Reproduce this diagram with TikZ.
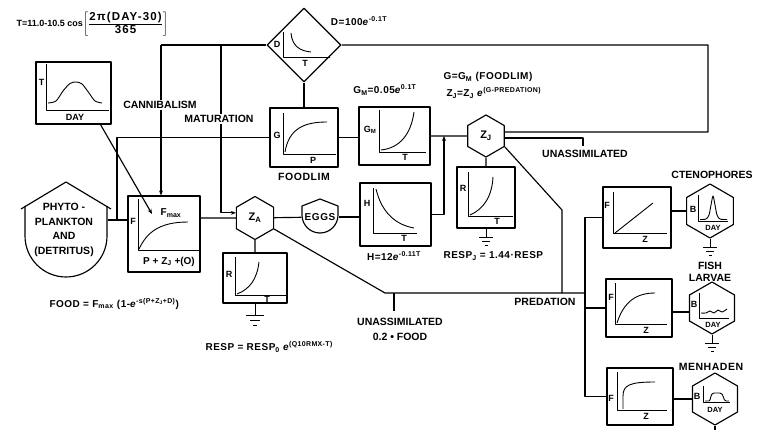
\documentclass[tikz,border=0pt]{standalone}
\usepackage{fontspec}
\setmainfont{Liberation Sans}
\usetikzlibrary{shapes.geometric,arrows.meta,calc}
\begin{document}
\begin{tikzpicture}[x=1pt,y=-1pt,line width=1.15pt,line join=round,
  bx/.style={draw,inner sep=0pt},
  gl/.style={line width=0.9pt},
  hexa/.style={draw,regular polygon,regular polygon sides=6,shape border rotate=30,inner sep=0pt,minimum size=#1,font=\fontsize{11}{12}\selectfont\bfseries},
  arr/.style={-{Stealth[length=5pt,width=4pt]}},
  lbl/.style={font=\fontsize{10.5}{12}\selectfont\bfseries,inner sep=1pt},
  axl/.style={font=\fontsize{9}{10}\selectfont\bfseries,inner sep=0pt},
  dayl/.style={font=\fontsize{7.5}{8}\selectfont\bfseries,inner sep=0pt},
  fml/.style={font=\fontsize{10}{12}\selectfont\bfseries\addfontfeature{LetterSpace=5},inner sep=0pt},
  gndL/.pic={\draw[line width=0.9pt] (0,0)--(0,12) (-9,12)--(9,12) (-5,17)--(5,17) (-2,22)--(2,22);},
  gndS/.pic={\draw[line width=0.9pt] (0,0)--(0,9) (-7,9)--(7,9) (-4,13)--(4,13) (-1.5,17)--(1.5,17);}
]
\useasboundingbox[fill=white] (0,0) rectangle (760,430);

% ---------- title formula
\node[font=\fontsize{9}{10}\selectfont\bfseries,inner sep=0pt,anchor=west] (ttl) at (16,24) {T=11.0-10.5 cos$\displaystyle\left[\frac{\mbox{\fontsize{11.5}{12}\selectfont\bfseries\addfontfeature{LetterSpace=10}2π(DAY-30)}}{\mbox{\fontsize{11.5}{12}\selectfont\bfseries\addfontfeature{LetterSpace=10}365}}\right]$};

% ---------- temperature box
\node[bx,minimum width=75,minimum height=62] (temp) at (73.5,93) {};
\draw[gl] (46,64) -- (46,110) -- (109,110);
\draw[gl] plot[smooth] coordinates {(48,103) (56,101) (63,91) (70,83.5) (76,82) (82,84) (89,93) (95,101) (102,103)};
\node[axl] (tT) at (41.5,82) {T};
\node[axl] (tDAY) at (75,117.5) {DAY};

% ---------- mortality diamond
\node[draw,diamond,minimum width=74,minimum height=74,inner sep=0pt] (D) at (304,45) {};
\draw[gl] (283,32) -- (283,57) -- (330,57);
\draw[gl] (291,33) .. controls (292,46) and (300,51) .. (311,52);
\node[axl] (dD) at (277,44) {D};
\node[axl] (dT) at (305,63.5) {T};
\node[fml] (dform) at (359,21) {D=100\textit{e}\textsuperscript{-0.1T}};

% ---------- phytoplankton
\node[minimum width=83,minimum height=95,inner sep=0pt] (phyto) at (66,230) {};
\draw (21,209) -- (66,182) -- (111,209);
\draw (25,206) -- (25,236) arc[start angle=180,end angle=0,radius=41] -- (107,206);
\node[font=\fontsize{10.5}{14.5}\selectfont\bfseries,align=center] (ptxt) at (64,230) {PHYTO -\\PLANKTON\\AND\\(DETRITUS)};

% ---------- feeding box
\node[bx,minimum width=72,minimum height=76] (food) at (164,234) {};
\draw[gl] (138,199) -- (138,250) -- (200,250);
\draw[gl] (139,249) .. controls (147,232) and (160,222) .. (188,222);
\node[axl] (fF) at (133,221) {F};
\node[font=\fontsize{10}{11}\selectfont\bfseries,inner sep=0pt] (fmaxl) at (171,213) {F\textsubscript{max}};
\node[font=\fontsize{10}{11}\selectfont\bfseries,inner sep=0pt] (fP) at (169,261.5) {P + Z\textsubscript{J} +(O)};
\node[fml,anchor=west] (fform) at (49,304) {FOOD = F\textsubscript{max} (1-\textit{e}\textsuperscript{-s(P+Z\textsubscript{J}+D)})};

% ---------- Z_A and respiration
\node[hexa=43] (ZA) at (255,218) {Z\textsubscript{A}};
\node[bx,minimum width=64,minimum height=50] (respA) at (255,278) {};
\draw[gl] (235,257) -- (235,295) -- (286,295);
\draw[gl] (237,294) .. controls (250,289) and (257,279) .. (259,262);
\node[axl] (rR) at (229,274) {R};
\node[axl] (rT) at (267,299) {T};
\pic at (respA.south) {gndL};
\node[fml,anchor=west] (rform) at (205,347) {RESP = RESP\textsubscript{0} \textit{e}\textsuperscript{(Q10RMX-T)}};

% ---------- eggs
\node[circle,minimum size=36,inner sep=0pt,font=\fontsize{10}{11}\selectfont\bfseries] (eggs) at (320,217) {\addfontfeature{LetterSpace=6}EGGS};
\draw (302,206) -- (320,199) -- (338,206) -- (338,215) arc[start angle=0,end angle=180,radius=18] -- cycle;

% ---------- hatching
\node[bx,minimum width=71,minimum height=63] (H) at (395.5,214.5) {};
\draw[gl] (373,188) -- (373,233) -- (417,233);
\draw[gl] (376,189) .. controls (382,214) and (397,225) .. (414,228);
\node[axl] (hH) at (367,203) {H};
\node[axl] (hT) at (404,238.5) {T};
\node[fml] (hform) at (394,256) {H=12\textit{e}\textsuperscript{-0.11T}};

% ---------- foodlim
\node[bx,minimum width=68,minimum height=59] (flim) at (304,137.5) {};
\draw[gl] (283,113) -- (283,154) -- (336,154);
\draw[gl] (285,152) .. controls (289,128) and (305,122) .. (327,122);
\node[axl] (gG) at (277,135) {G};
\node[axl] (gP) at (313,160) {P};
\node[lbl] (flimtxt) at (304,177) {\addfontfeature{LetterSpace=5}FOODLIM};

% ---------- G_M
\node[bx,minimum width=71,minimum height=58] (GM) at (394.5,136) {};
\draw[gl] (379,110) -- (379,152) -- (426,152);
\draw[gl] (381,150) .. controls (400,148) and (411,134) .. (414,112);
\node[axl] (gmG) at (370,130) {G\textsubscript{M}};
\node[axl] (gmT) at (405,157.5) {T};
\node[fml] (gmform) at (385,90) {G\textsubscript{M}=0.05\textit{e}\textsuperscript{0.1T}};
\node[fml,anchor=west] (gform) at (443,77) {G=G\textsubscript{M} (FOODLIM)};
\node[fml,anchor=west] (zform) at (446,93) {Z\textsubscript{J}=Z\textsubscript{J} \textit{e}\textsuperscript{(G-PREDATION)}};

% ---------- Z_J and respiration
\node[hexa=42] (ZJ) at (486,136) {Z\textsubscript{J}};
\node[bx,minimum width=58,minimum height=61] (respJ) at (486,197.5) {};
\draw[gl] (468,172) -- (468,216) -- (513,216);
\draw[gl] (470,215) .. controls (484,209) and (492,196) .. (493,177);
\node[axl] (rjR) at (463,188) {R};
\node[axl] (rjT) at (497,221.5) {T};
\pic at (respJ.south) {gndS};
\node[fml,anchor=west] (rjform) at (443,256) {RESP\textsubscript{J} = 1.44·RESP};

% ---------- ctenophores
\node[bx,minimum width=68,minimum height=61] (ctF) at (637,217.5) {};
\draw[gl] (613,192) -- (613,233) -- (667,233);
\draw[gl] (615,233) -- (653,203);
\node[axl] (ctFF) at (607,205) {F};
\node[axl] (ctFZ) at (645,239.5) {Z};
\node[hexa=54] (ctH) at (710,211) {};
\draw[gl] (698,195) -- (698,221) -- (728,221);
\draw[gl] plot[smooth] coordinates {(700,219.5) (706,219) (709,215) (711,205) (713,196) (715,205) (717,215) (720,219) (727,219.5)};
\node[axl] (ctB) at (693,209) {B};
\node[dayl] (ctDAY) at (713,227.5) {DAY};
\pic at (ctH.south) {gndS};
\node[lbl] (cttxt) at (712,175) {CTENOPHORES};

% ---------- fish larvae
\node[bx,minimum width=66,minimum height=58] (fiF) at (639,308) {};
\draw[gl] (615,283) -- (615,324) -- (667,324);
\draw[gl] (617,323) .. controls (624,301) and (637,293) .. (655,293);
\node[axl] (fiFF) at (611,297) {F};
\node[axl] (fiFZ) at (646,330) {Z};
\node[hexa=52] (fiH) at (712,308) {};
\draw[gl] (699,293) -- (699,318) -- (729,318);
\draw[gl] plot[smooth] coordinates {(701,313) (706,313) (710,311) (714,313) (718,310) (722,312) (727,309)};
\node[axl] (fiB) at (694,304) {B};
\node[dayl] (fiDAY) at (713,324.5) {DAY};
\pic at (fiH.south) {gndS};
\node[lbl,align=center,font=\fontsize{10.5}{12}\selectfont\bfseries] (fitxt) at (710,272) {FISH\\LARVAE};

% ---------- menhaden
\node[bx,minimum width=66,minimum height=57] (mhF) at (640,396.5) {};
\draw[gl] (617,372) -- (617,410) -- (667,410);
\draw[gl] (623,409) -- (623,396) .. controls (623,385) and (630,382) .. (655,382);
\node[axl] (mhFF) at (611,398) {F};
\node[axl] (mhFZ) at (646,416) {Z};
\node[hexa=52] (mhH) at (715,399) {};
\draw[gl] (703,386) -- (703,402) -- (730,402);
\draw[gl] (705,401) -- (709,401) .. controls (711,401) and (710,393) .. (714,393) -- (720,393) .. controls (724,393) and (723,401) .. (726,401) -- (729,401);
\node[axl] (mhB) at (697,396) {B};
\node[dayl] (mhDAY) at (715,409.5) {DAY};
\draw (mhH.south) -- ++(0,4);
\node[lbl] (mhtxt) at (711,367) {\addfontfeature{LetterSpace=5}MENHADEN};

% ---------- connectors
\coordinate (cann) at (161,45);
\coordinate (mat) at (221,45);
\coordinate (fmx) at (152,214);
\coordinate (pj) at (117,220);
\coordinate (hj) at (444,136);
\coordinate (pa) at (385,293);
\coordinate (bus) at (585,293);
\coordinate (pz) at (562,210);
\coordinate (ua) at (394,311);
\coordinate (tr) at (708,132);
\coordinate (uj) at (583,146);

\draw (D.west) -- (cann);
\draw[arr] (cann) -- (cann |- food.north);
\draw[arr] (mat) |- (ZA.165);
\draw[arr] ($(temp.south)+(27,0)$) -- (fmx);
\draw (phyto.east |- pj) -- (food.west |- pj);
\draw (pj) |- (flim.west);
\draw (food.east |- ZA) -- (ZA);
\draw (D.south) -- (flim.north);
\draw (flim.east) -- (flim.east -| GM.west);
\draw (GM) -- (ZJ);
\draw[arr] (H.east) -| (hj);
\draw (ZA) -- (eggs);
\draw (eggs) -- (eggs -| H.west);
\draw (ZA) -- (respA);
\draw (ZJ) -- (respJ);
\draw (ZA.330) -- (pa) -- (bus);
\draw (ZJ.330) -- (pz) -- (pz |- bus);
\draw (ua |- bus) -- (ua);
\draw (ctF.west) -| (bus) |- (mhF.west);
\draw (fiF.west) -- (fiF.west -| bus);
\draw (ctF.east |- ctH.180) -- (ctH.180);
\draw (fiF.east |- fiH.190) -- (fiH.190);
\draw (mhF.east |- mhH.180) -- (mhH.180);
\draw (ZJ.12) -- (tr) |- (D.east);
\draw (ZJ.354) -| (uj);

% ---------- labels
\node[lbl,fill=white] (canl) at (160,105) {CANNIBALISM};
\node[lbl,fill=white] (matl) at (219,119) {MATURATION};
\node[lbl] (unj) at (585,154) {UNASSIMILATED};
\node[lbl] (una) at (400,322) {UNASSIMILATED};
\node[lbl] (unf) at (400,337) {0.2 • FOOD};
\node[lbl] (pred) at (545,302) {PREDATION};
\end{tikzpicture}
\end{document}
